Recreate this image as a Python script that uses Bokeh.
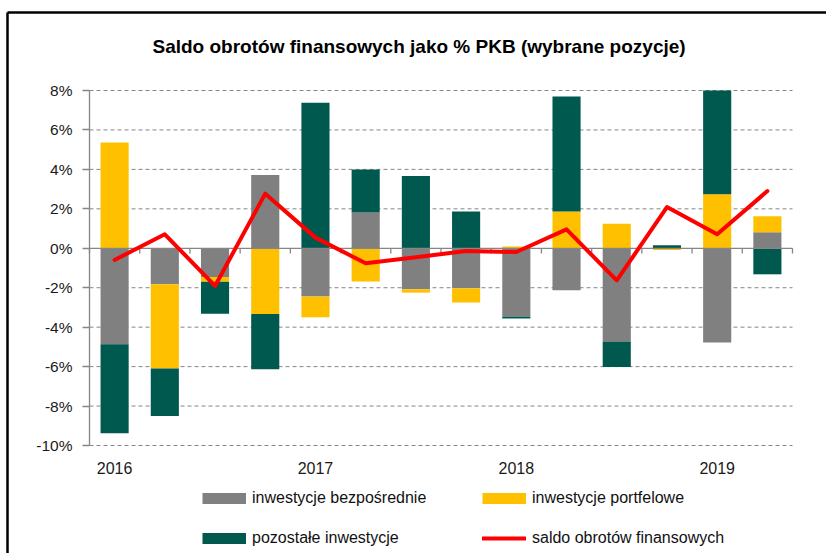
import numpy as np
from bokeh.plotting import figure
from bokeh.models import (Range1d, FixedTicker, PrintfTickFormatter, Legend, LegendItem, Label)
from bokeh.embed import file_html
from bokeh.resources import INLINE

# ---------------- data (% of GDP) ----------------
quarters = ["2016 Q1", "2016 Q2", "2016 Q3", "2016 Q4",
            "2017 Q1", "2017 Q2", "2017 Q3", "2017 Q4",
            "2018 Q1", "2018 Q2", "2018 Q3", "2018 Q4",
            "2019 Q1", "2019 Q2"]
year_labels = ["2016", "2017", "2018", "2019"]
direct = [-4.87, -1.82, -1.45, 3.72, -2.45, 1.81, -2.08, -2.03, -3.46, -2.13, -4.75, 0.0, -4.78, 0.81]
portfolio = [5.36, -4.28, -0.25, -3.33, -1.05, -1.69, -0.17, -0.72, 0.09, 1.86, 1.25, -0.09, 2.74, 0.81]
other = [-4.51, -2.40, -1.62, -2.80, 7.38, 2.19, 3.67, 1.86, -0.10, 5.83, -1.27, 0.15, 5.26, -1.32]
balance = [-0.59, 0.71, -1.91, 2.77, 0.54, -0.76, -0.45, -0.14, -0.19, 0.96, -1.63, 2.09, 0.71, 2.90]
y_ticks = [-10, -8, -6, -4, -2, 0, 2, 4, 6, 8]

names = ["inwestycje bezpośrednie", "inwestycje portfelowe", "pozostałe inwestycje",
         "saldo obrotów finansowych"]
colors = ["#808080", "#FFC000", "#00594F", "#FF0000"]
title_text = "Saldo obrotów finansowych jako % PKB (wybrane pozycje)"

FONT = "Liberation Sans"
AXIS_COLOR = "#868686"

# ---------------- layout (canvas pixels) ----------------
W, H = 826, 553
PLOT_L, PLOT_R = 89, 792           # pixel columns of the category area edges
AXIS_TOP, AXIS_BOTTOM = 90, 445    # pixel rows of the 8% and -10% gridlines
BORDER_X, BORDER_Y = 7, 12         # outer frame lines (left, top)

n = len(quarters)
x = np.arange(n)
cat_lo, cat_hi = -0.5, n - 0.5
y_lo, y_hi = min(y_ticks), max(y_ticks)
ppx = (PLOT_R - PLOT_L) / (cat_hi - cat_lo)
ppu = (AXIS_BOTTOM - AXIS_TOP) / (y_hi - y_lo)
x_start, x_end = cat_lo - PLOT_L / ppx, cat_hi + (W - PLOT_R) / ppx
y_start, y_end = y_lo - (H - AXIS_BOTTOM) / ppu, y_hi + AXIS_TOP / ppu

p = figure(width=W, height=H, output_backend="svg", toolbar_location=None,
           x_range=Range1d(x_start, x_end), y_range=Range1d(y_start, y_end),
           min_border_left=0, min_border_right=0, min_border_top=0, min_border_bottom=0)
p.title.visible = False
p.outline_line_alpha = 0
p.background_fill_color = "white"
p.border_fill_color = "white"
p.xaxis.visible = False
p.xgrid.visible = False
p.ygrid.visible = False

# y axis, placed at the left edge of the category area
p.yaxis.fixed_location = cat_lo
p.yaxis.ticker = FixedTicker(ticks=y_ticks)
p.yaxis.bounds = (y_lo, y_hi)
p.yaxis.formatter = PrintfTickFormatter(format="%d%%")
p.yaxis.axis_line_color = AXIS_COLOR
p.yaxis.axis_line_width = 1.3
p.yaxis.major_tick_line_color = AXIS_COLOR
p.yaxis.major_tick_line_width = 1.3
p.yaxis.major_tick_out = 7
p.yaxis.major_tick_in = 0
p.yaxis.minor_tick_line_color = None
p.yaxis.major_label_standoff = 10
p.yaxis.major_label_text_font = FONT
p.yaxis.major_label_text_font_size = "15.5px"
p.yaxis.major_label_text_color = "#1a1a1a"

# dashed horizontal gridlines across the category area
grid_y = [t for t in y_ticks if t != 0]
p.segment(x0=[cat_lo] * len(grid_y), y0=grid_y, x1=[cat_hi] * len(grid_y), y1=grid_y,
          line_color=AXIS_COLOR, line_width=1, line_dash="4 3")

# stacked bars (positives stack upward, negatives downward)
pos_base = np.zeros(n)
neg_base = np.zeros(n)
for vals, c in zip([direct, portfolio, other], colors[:3]):
    v = np.array(vals, dtype=float)
    bottom = np.where(v >= 0, pos_base, neg_base)
    top = bottom + v
    pos_base = np.where(v >= 0, top, pos_base)
    neg_base = np.where(v < 0, top, neg_base)
    p.vbar(x=x, bottom=bottom, top=top, width=0.56, fill_color=c, line_color=None)

# zero axis line with category-boundary ticks
bounds = np.arange(n + 1) - 0.5
p.segment(x0=[cat_lo], y0=[0], x1=[cat_hi], y1=[0], line_color=AXIS_COLOR, line_width=1.3)
p.segment(x0=bounds, y0=np.zeros(n + 1), x1=bounds, y1=np.full(n + 1, -0.27),
          line_color=AXIS_COLOR, line_width=1.3)

# balance line
line_r = p.line(x=x, y=balance, line_color=colors[3], line_width=4, line_join="round",
                line_cap="round")

# year labels under the axis (first quarter of every year)
for i, q in enumerate(quarters):
    if q.endswith("Q1"):
        p.add_layout(Label(x=i, y=H - 467, x_units="data", y_units="screen",
                           text=q[:4], text_align="center", text_baseline="middle",
                           text_font=FONT, text_font_size="16px", text_color="#1a1a1a"))

# title
p.add_layout(Label(x=152, y=H - 46, x_units="screen", y_units="screen", text=title_text,
                   text_align="left", text_baseline="middle", text_font=FONT,
                   text_font_size="19px", text_font_style="bold", text_color="#000000"))

# legend swatches (thick line proxies sized like Excel legend keys; no visible data)
swatches = [p.line(x=[np.nan], y=[np.nan], line_color=c, line_width=11, line_cap="butt")
            for c in colors[:3]]

def make_legend(items, loc):
    return Legend(items=items, location=loc, orientation="horizontal",
                  glyph_width=44, glyph_height=20, label_standoff=6, label_width=230,
                  label_height=20, spacing=0, padding=0, margin=0,
                  label_text_font=FONT, label_text_font_size="16px", label_text_color="#111111",
                  border_line_alpha=0, background_fill_alpha=0)

p.add_layout(make_legend([LegendItem(label=names[0], renderers=[swatches[0]]),
                          LegendItem(label=names[1], renderers=[swatches[1]])],
                         (202, H - 508)))
p.add_layout(make_legend([LegendItem(label=names[2], renderers=[swatches[2]]),
                          LegendItem(label=names[3], renderers=[line_r])],
                         (202, H - 548)))

# outer chart frame: top and left edges
bx = x_start + BORDER_X / ppx
by = y_end - BORDER_Y / ppu
p.segment(x0=[bx, bx], y0=[by, by], x1=[x_end, bx], y1=[by, y_start],
          line_color="black", line_width=2.5)

open("out.html", "w").write(file_html(p, INLINE))
